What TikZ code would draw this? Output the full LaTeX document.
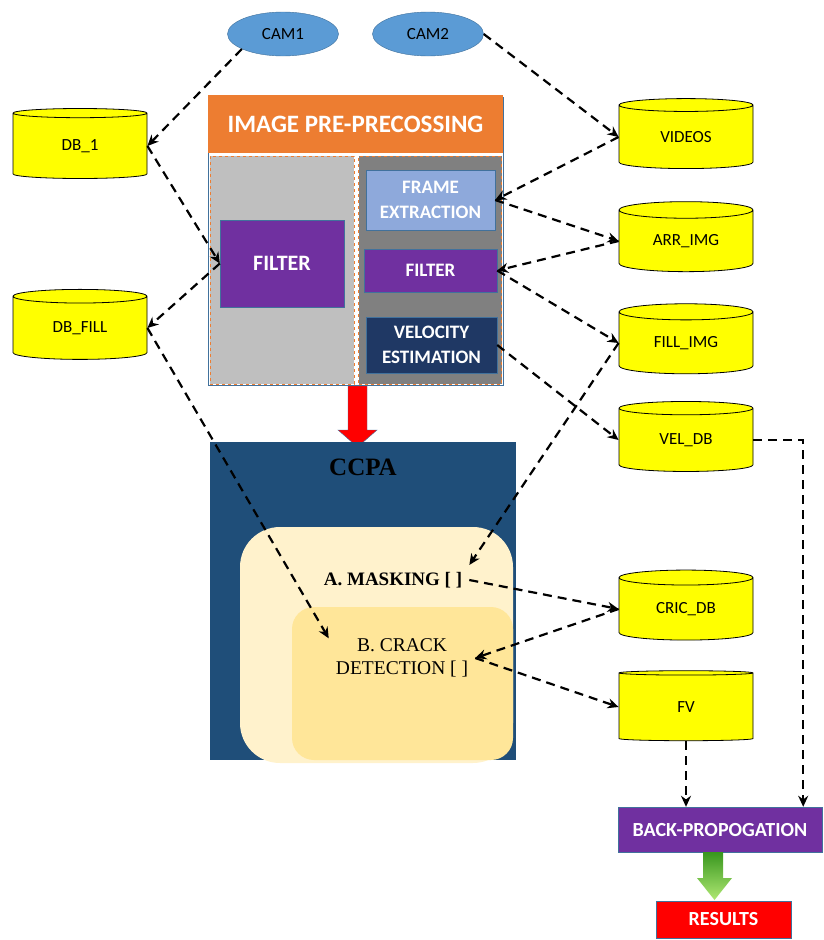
\documentclass[tikz,border=0pt]{standalone}
\usepackage{fontspec}
\setmainfont{Carlito}
\newfontfamily\timesfont{Liberation Serif}
\usetikzlibrary{arrows.meta}
\usetikzlibrary{calc}
\usetikzlibrary{shapes.geometric}
\definecolor{camblue}{RGB}{91,155,213}
\definecolor{camline}{RGB}{65,113,156}
\definecolor{dbyellow}{RGB}{255,255,0}
\definecolor{prephead}{RGB}{237,125,49}
\definecolor{lightpanel}{RGB}{191,191,191}
\definecolor{darkpanel}{RGB}{128,128,128}
\definecolor{framebox}{RGB}{142,169,219}
\definecolor{filterbox}{RGB}{112,48,160}
\definecolor{velobox}{RGB}{31,56,100}
\definecolor{ccpabox}{RGB}{31,78,121}
\definecolor{maskbox}{RGB}{255,242,204}
\definecolor{crackbox}{RGB}{255,230,153}
\definecolor{boxline}{RGB}{65,113,156}

\begin{document}
\begin{tikzpicture}[x=1pt,y=1pt,yscale=-1,
	cam/.style={ellipse,draw=camline,fill=camblue,minimum width=111pt,minimum height=44pt,inner sep=0pt,font=\fontsize{17}{17}\selectfont},
	db/.style={cylinder,shape border rotate=90,aspect=0.25,draw,thick,fill=dbyellow,minimum width=134pt,minimum height=70pt,inner sep=0pt,font=\fontsize{17}{17}\selectfont},
	stage/.style={draw=boxline,text=white,align=center,inner sep=0pt,font=\bfseries\fontsize{19}{25}\selectfont},
	flow/.style={draw=black,line width=2.2pt,dash pattern=on 9pt off 6pt,-{Stealth[length=11pt,width=10pt]}}]
	\useasboundingbox (0,0) rectangle (823,940);
	% cameras
	\node[name=cam1,cam] at (283,34) {CAM1};
	\node[name=cam2,cam] at (428,34) {CAM2};
	% databases
	\node[name=db1,db] at (80,146) {DB\_1};
	\node[name=dbfill,db] at (80,328) {DB\_FILL};
	\node[name=videos,db] at (686,137) {VIDEOS};
	\node[name=arrimg,db] at (686,241) {ARR\_IMG};
	\node[name=fillimg,db] at (686,343) {FILL\_IMG};
	\node[name=veldb,db] at (686,440) {VEL\_DB};
	\node[name=cricdb,db] at (686,609) {CRIC\_DB};
	\node[name=fv,db] at (686,707) {FV};
	% image pre-processing
	\draw[boxline] (208,97) rectangle (503,385);
	\node[name=prep,fill=prephead,text=white,minimum width=295pt,minimum height=58pt,inner sep=0pt,font=\bfseries\fontsize{25}{25}\selectfont] at (355.5,124) {IMAGE PRE-PRECOSSING};
	\node[name=panelL,fill=lightpanel,draw=prephead,dashed,minimum width=144pt,minimum height=228pt,inner sep=0pt] at (282,270) {};
	\node[name=panelR,fill=darkpanel,draw=prephead,dashed,minimum width=143pt,minimum height=228pt,inner sep=0pt] at (430,270) {};
	\node[name=filterL,stage,fill=filterbox,minimum width=124pt,minimum height=87pt,font=\bfseries\fontsize{22}{22}\selectfont] at (282,263.5) {FILTER};
	\node[name=frame,stage,fill=framebox,minimum width=129pt,minimum height=60pt] at (430.5,200) {FRAME\\EXTRACTION};
	\node[name=filterR,stage,fill=filterbox,minimum width=133pt,minimum height=43pt] at (430.5,270.5) {FILTER};
	\node[name=velo,stage,fill=velobox,minimum width=131pt,minimum height=56pt] at (431.5,345) {VELOCITY\\ESTIMATION};
	% red arrow down to ccpa
	\filldraw[fill=red,draw=boxline] (348,386) -- (367,386) -- (367,430) -- (377,430) -- (357.5,447) -- (338,430) -- (348,430) -- cycle;
	% ccpa
	\node[name=ccpa,fill=ccpabox,minimum width=306pt,minimum height=318pt,inner sep=0pt] at (363,601) {};
	\node[name=ccpatitle,font=\timesfont\bfseries\fontsize{25}{25}\selectfont] at (363,467) {CCPA};
	\node[name=maskbg,fill=maskbox,rounded corners=40pt,minimum width=273pt,minimum height=236pt,inner sep=0pt] at (376.5,645) {};
	\node[name=crackbg,fill=crackbox,rounded corners=22pt,minimum width=221pt,minimum height=153pt,inner sep=0pt] at (402.5,683.5) {};
	\node[name=masking,inner sep=7pt,font=\timesfont\bfseries\fontsize{19}{19}\selectfont] at (393,580) {A. MASKING [ ]};
	\node[name=crack,align=center,inner sep=7pt,font=\timesfont\fontsize{19.5}{23}\selectfont] at (402,658) {B. CRACK\\DETECTION [ ]};
	% training
	\node[name=backprop,stage,fill=filterbox,minimum width=204pt,minimum height=45pt,font=\bfseries\fontsize{20}{20}\selectfont] at (720,829.5) {BACK-PROPOGATION};
	\node[name=results,stage,fill=red,minimum width=135pt,minimum height=37pt,font=\bfseries\fontsize{20}{20}\selectfont] at (723.5,919.5) {RESULTS};
	\shade[top color={rgb,255:red,56;green,150;blue,30},bottom color={rgb,255:red,175;green,232;blue,115}] (703,852) -- (723,852) -- (723,878) -- (732,878) -- (714.5,900) -- (697,878) -- (703,878) -- cycle;
	% connections
	\draw[flow] (cam1.200) -- (db1.east);
	\draw[flow] (cam2.east) -- (videos.west);
	\draw[flow] (db1.east) -- (filterL.west);
	\draw[flow] (filterL.west) -- (dbfill.east);
	\draw[flow] (dbfill.east) -- (crack.165);
	\draw[flow] (videos.west) -- (frame.east);
	\draw[flow] (frame.east) -- (arrimg.west);
	\draw[flow] (arrimg.west) -- (filterR.east);
	\draw[flow] (filterR.east) -- (fillimg.west);
	\draw[flow] (velo.east) -- (veldb.west);
	\draw[flow] (fillimg.west) -- (masking.north east);
	\draw[flow] (masking.east) -- (cricdb.west);
	\draw[flow] (cricdb.west) -- (crack.east);
	\draw[flow] (crack.east) -- (fv.west);
	\draw[flow] (fv.south) -- (fv.south |- backprop.north);
	\draw[flow] (veldb.east) -| ([xshift=-19pt]backprop.north east);
\end{tikzpicture}
\end{document}
